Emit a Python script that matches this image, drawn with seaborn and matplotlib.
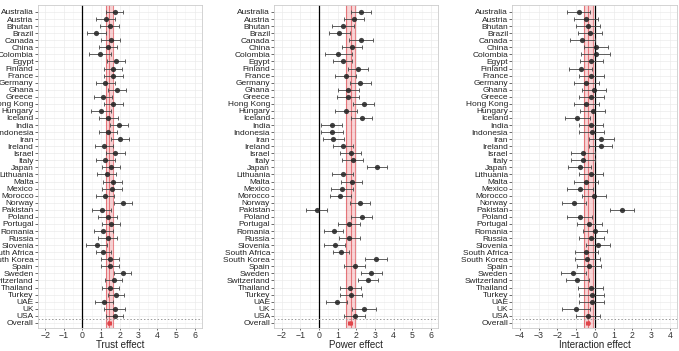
import numpy as np
import pandas as pd
import matplotlib
matplotlib.use("Agg")
import matplotlib.pyplot as plt
import seaborn as sns
from matplotlib.ticker import MultipleLocator

countries = [
    "Australia", "Austria", "Bhutan", "Brazil", "Canada", "China", "Colombia",
    "Egypt", "Finland", "France", "Germany", "Ghana", "Greece", "Hong Kong",
    "Hungary", "Iceland", "India", "Indonesia", "Iran", "Ireland", "Israel",
    "Italy", "Japan", "Lithuania", "Malta", "Mexico", "Morocco", "Norway",
    "Pakistan", "Poland", "Portugal", "Romania", "Russia", "Slovenia",
    "South Africa", "South Korea", "Spain", "Sweden", "Switzerland", "Thailand",
    "Turkey", "UAE", "UK", "USA", "Overall",
]

# Trust effect: estimate and half width of the interval
trust_est = [1.73, 1.25, 1.45, 0.73, 1.52, 1.38, 0.95, 1.79, 1.64, 1.66, 1.21,
             1.84, 1.11, 1.66, 0.98, 1.38, 1.96, 1.38, 2.02, 1.16, 1.75, 1.21,
             1.52, 1.30, 1.61, 1.57, 1.20, 2.18, 1.02, 1.34, 1.52, 1.12, 1.34,
             0.75, 1.10, 1.45, 1.45, 2.15, 1.68, 1.49, 1.79, 1.13, 1.72, 1.72,
             1.44]
trust_hw = [0.46, 0.51, 0.51, 0.51, 0.51, 0.49, 0.58, 0.48, 0.49, 0.51, 0.51,
            0.49, 0.49, 0.51, 0.52, 0.52, 0.49, 0.49, 0.49, 0.49, 0.51, 0.51,
            0.49, 0.51, 0.50, 0.52, 0.49, 0.49, 0.51, 0.52, 0.50, 0.49, 0.52,
            0.55, 0.40, 0.48, 0.48, 0.45, 0.45, 0.45, 0.45, 0.48, 0.55, 0.45,
            0.08]

# Power effect
power_est = [2.25, 1.89, 1.29, 1.08, 2.25, 1.76, 1.04, 1.26, 2.10, 1.44, 2.21,
             1.58, 1.56, 2.39, 1.44, 2.28, 0.68, 0.68, 0.76, 1.29, 1.71, 1.80,
             3.09, 1.26, 1.76, 1.22, 1.13, 2.19, -0.13, 2.28, 1.62, 0.78, 1.62,
             0.85, 1.18, 3.04, 1.91, 2.80, 2.62, 1.67, 1.69, 0.95, 2.42, 1.91,
             1.67]
power_hw = [0.52, 0.54, 0.57, 0.57, 0.63, 0.52, 0.74, 0.52, 0.52, 0.56, 0.57,
            0.56, 0.58, 0.56, 0.60, 0.57, 0.57, 0.58, 0.57, 0.52, 0.56, 0.57,
            0.54, 0.58, 0.56, 0.59, 0.56, 0.55, 0.58, 0.57, 0.58, 0.52, 0.57,
            0.56, 0.43, 0.59, 0.57, 0.57, 0.53, 0.56, 0.59, 0.56, 0.65, 0.56,
            0.10]

# Interaction effect
inter_est = [-0.85, -0.49, -0.37, -0.26, -0.67, 0.04, 0.04, -0.19, -0.76, -0.19,
             -0.45, -0.04, -0.19, -0.45, -0.12, -0.94, -0.19, -0.17, 0.35, 0.31,
             -0.63, -0.65, -0.81, -0.21, -0.47, -0.79, -0.04, -1.13, 1.43, -0.81,
             -0.29, 0.00, -0.19, 0.17, -0.45, -0.40, -0.31, -1.15, -0.94, -0.22,
             -0.17, -0.17, -0.99, -0.35, -0.38]
inter_hw = [0.62, 0.64, 0.65, 0.65, 0.66, 0.64, 0.76, 0.62, 0.62, 0.67, 0.67,
            0.66, 0.67, 0.67, 0.65, 0.66, 0.64, 0.65, 0.65, 0.62, 0.62, 0.64,
            0.63, 0.65, 0.65, 0.67, 0.66, 0.64, 0.64, 0.67, 0.67, 0.64, 0.67,
            0.65, 0.62, 0.66, 0.64, 0.67, 0.62, 0.66, 0.67, 0.65, 0.74, 0.64,
            0.08]

# overall interval shown as the red band (low, centre, high)
trust_band = [1.25, 1.44, 1.62]
power_band = [1.45, 1.70, 1.95]
inter_band = [-0.58, -0.34, -0.10]

panels = [
    ("Trust effect", trust_est, trust_hw, trust_band, (-2, 6)),
    ("Power effect", power_est, power_hw, power_band, (-2, 6)),
    ("Interaction effect", inter_est, inter_hw, inter_band, (-4, 4)),
]

sns.set_theme(style="whitegrid")
plt.rcParams["font.family"] = ["Liberation Sans", "DejaVu Sans"]

fig = plt.figure(figsize=(6.79, 3.51), dpi=100)
lefts = [0.0555, 0.404, 0.7545]
widths = [0.242, 0.2415, 0.243]

n = len(countries)
rows = np.arange(n)

for (xlabel, est, hw, band, (lo, hi)), left, width in zip(panels, lefts, widths):
    ax = fig.add_axes([left, 0.066, width, 0.92])
    df = pd.DataFrame({"country": countries, "row": rows,
                       "est": est, "hw": hw})
    df["is_overall"] = df["country"] == "Overall"

    # overall band
    ax.axvspan(band[0], band[2], color="#e8474c", alpha=0.22, lw=0, zorder=1)
    for v in band:
        ax.axvline(v, color="#d9333a", lw=0.8, alpha=0.6, zorder=1.5)
    ax.axvline(0, color="black", lw=0.9, zorder=1.6)
    ax.axhline(n - 1.5, color="#999999", lw=0.7, ls=(0, (1.5, 2)), zorder=1.6)

    sub = df[~df["is_overall"]]
    ax.errorbar(sub["est"], sub["row"], xerr=sub["hw"], fmt="none",
                ecolor="#444444", elinewidth=0.7, capsize=1.6,
                capthick=0.7, alpha=0.85, zorder=2)
    sns.scatterplot(data=sub, x="est", y="row", ax=ax, color="#222222",
                    s=14, alpha=0.85, linewidth=0, zorder=3, legend=False)
    ov = df[df["is_overall"]]
    ax.errorbar(ov["est"], ov["row"], xerr=ov["hw"], fmt="none",
                ecolor="#e0454a", elinewidth=0.7, capsize=1.6,
                capthick=0.7, zorder=2)
    sns.scatterplot(data=ov, x="est", y="row", ax=ax, color="#e0454a",
                    s=11, linewidth=0, zorder=3, legend=False)

    pad = (hi - lo) * 0.05
    ax.set_xlim(lo - pad, hi + pad)
    ax.set_ylim(n - 1 + 0.7, -1.0)
    ax.set_xticks(np.arange(lo, hi + 1))
    ax.xaxis.set_minor_locator(MultipleLocator(0.5))
    ax.set_yticks(rows)
    ax.set_yticklabels(countries)
    ax.tick_params(axis="y", labelsize=6, pad=1, length=2, width=0.5,
                   colors="#333333", left=True)
    ax.tick_params(axis="y", labelcolor="#222222")
    ax.tick_params(axis="x", labelsize=6.3, pad=0.8, length=1.5, width=0.5,
                   colors="#333333", bottom=True)
    ax.tick_params(axis="x", labelcolor="#333333")
    ax.set_xlabel(xlabel, fontsize=7, labelpad=0, color="#222222")
    ax.set_ylabel("")
    ax.grid(True, which="major", color="#ebebeb", lw=0.5)
    ax.grid(True, which="minor", axis="x", color="#f4f4f4", lw=0.4)
    ax.tick_params(which="minor", length=0)
    for sp in ax.spines.values():
        sp.set_color("#cccccc")
        sp.set_linewidth(0.6)
    ax.set_axisbelow(True)

fig.savefig("out.png", dpi=100)
